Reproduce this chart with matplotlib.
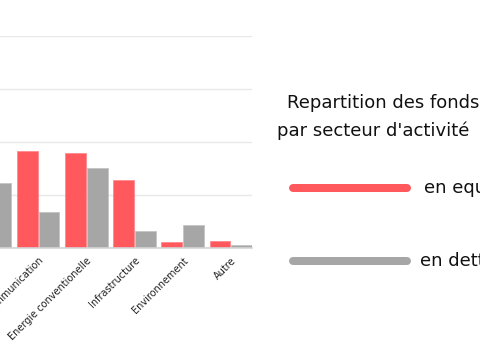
import matplotlib
matplotlib.use("Agg")
import matplotlib.pyplot as plt
import numpy as np

plt.rcParams['font.family'] = ['DejaVu Sans']

categories = ["Santé", "Télécommunication", "Energie conventionelle",
              "Infrastructure", "Environnement", "Autre"]
equity = [10.0, 18.4, 17.9, 12.8, 1.2, 1.3]
dette = [12.3, 6.8, 15.2, 3.2, 4.4, 0.7]
y_ticks = [0, 10, 20, 30, 40]

title_lines = ["Repartition des fonds levés", "par secteur d'activité"]
legend_labels = ["en equity", "en dette"]

RED = "#FF585D"
GRAY = "#A6A6A6"

W, H = 480, 360
fig = plt.figure(figsize=(W / 100, H / 100), dpi=100)

n = len(categories)
slot = 48.15
right_px = 252.0
xlim = (-0.44, n - 1 + 0.44)
width_px = (xlim[1] - xlim[0]) * slot
left_px = right_px - width_px
bottom_px = 248.3
top_px = 36.3
ax = fig.add_axes([left_px / W, (H - bottom_px) / H, width_px / W, (bottom_px - top_px) / H])

x = np.arange(n)
bw = 0.43
off = 0.225
ax.bar(x - off, equity, bw, color=RED, edgecolor="#ff8a8d", linewidth=0.6, zorder=3)
ax.bar(x + off, dette, bw, color=GRAY, edgecolor="#c4c4c4", linewidth=0.6, zorder=3)

ax.set_xlim(*xlim)
ax.set_ylim(0, 40)
ax.set_yticks(y_ticks)
ax.yaxis.grid(True, color="#e8e8e8", linewidth=1.0, zorder=0)
ax.set_axisbelow(True)
ax.tick_params(axis='y', length=0, labelleft=False)
for s in ["top", "right", "left"]:
    ax.spines[s].set_visible(False)
ax.spines["bottom"].set_color("#d4d4d4")
ax.spines["bottom"].set_linewidth(1.2)
ax.spines["bottom"].set_zorder(4)

ax.set_xticks(x)
ax.set_xticklabels(categories, rotation=45, ha="right", rotation_mode="anchor",
                   fontsize=7, color="#222222")
ax.tick_params(axis='x', length=0, pad=5)

fig.text(287 / W, 1 - 103 / H, title_lines[0], fontsize=13, color="#111111",
         ha="left", va="center")
fig.text(277 / W, 1 - 131 / H, title_lines[1], fontsize=13, color="#111111",
         ha="left", va="center")

lw_pt = 8 * 72 / 100
for (y_px, col, lab, tx) in [(188, RED, legend_labels[0], 424), (261, GRAY, legend_labels[1], 420)]:
    fig.add_artist(plt.Line2D([293 / W, 407 / W], [1 - y_px / H, 1 - y_px / H],
                              transform=fig.transFigure, color=col, linewidth=lw_pt,
                              solid_capstyle="round"))
    fig.text(tx / W, 1 - y_px / H, lab, fontsize=13, color="#111111",
             ha="left", va="center")

fig.savefig("out.png", dpi=100)
